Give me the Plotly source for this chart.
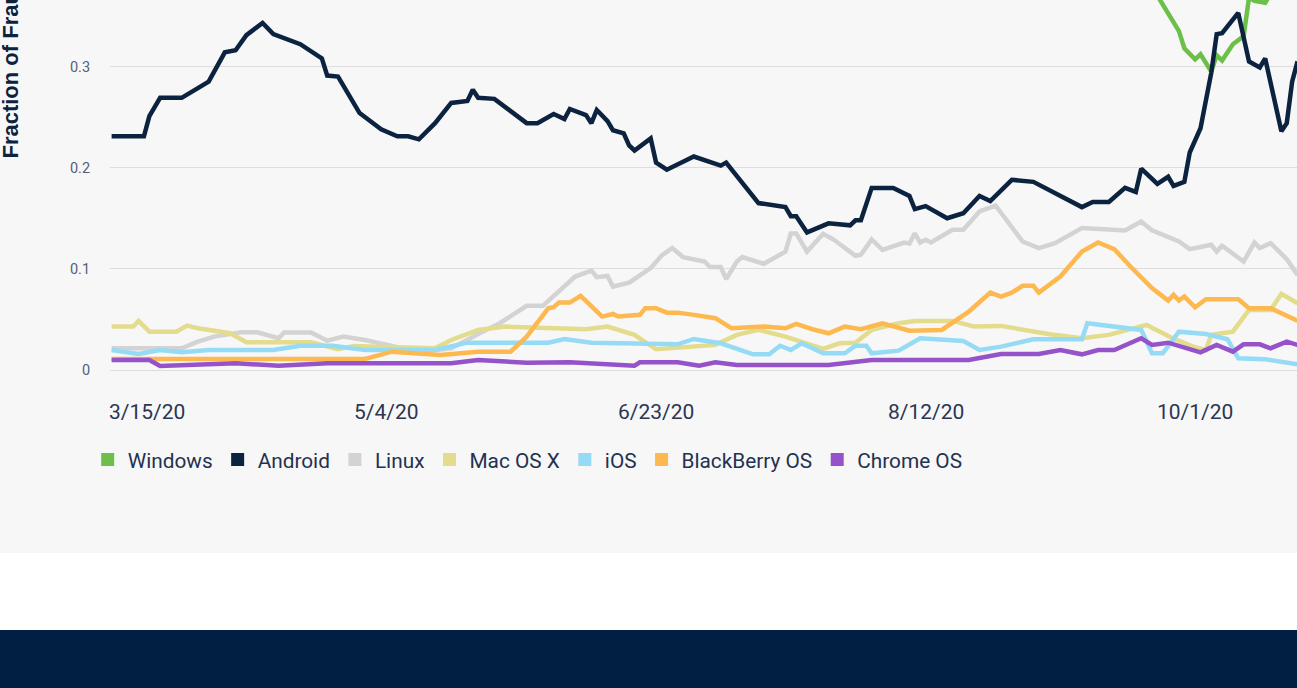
import plotly.graph_objects as go

# ---------------- data ----------------
series_names = ["Windows", "Android", "Linux", "Mac OS X", "iOS", "BlackBerry OS", "Chrome OS"]
series_colors = ["#6cc04a", "#0c2340", "#d3d3d3", "#e2dc8c", "#96dbf5", "#fdb94f", "#9552c9"]

# Windows is mostly above the visible window; the first two values are estimates off-chart
windows_dates = ["2020-03-14", "2020-09-20", "2020-09-24", "2020-09-28", "2020-09-29", "2020-10-01",
                 "2020-10-02", "2020-10-04", "2020-10-05", "2020-10-06", "2020-10-08", "2020-10-10",
                 "2020-10-11", "2020-10-12", "2020-10-13", "2020-10-14", "2020-10-15", "2020-10-20"]
windows_vals = [0.42, 0.40, 0.37, 0.335, 0.318, 0.307,
                0.312, 0.295, 0.311, 0.306, 0.322, 0.330,
                0.368, 0.365, 0.364, 0.363, 0.372, 0.380]

android_dates = ["2020-03-14", "2020-03-20", "2020-03-21", "2020-03-23", "2020-03-27", "2020-04-01",
                 "2020-04-04", "2020-04-06", "2020-04-08", "2020-04-11", "2020-04-13", "2020-04-18",
                 "2020-04-22", "2020-04-23", "2020-04-25", "2020-04-27", "2020-04-29", "2020-05-03",
                 "2020-05-06", "2020-05-08", "2020-05-10", "2020-05-13", "2020-05-16", "2020-05-19",
                 "2020-05-20", "2020-05-21", "2020-05-24", "2020-05-30", "2020-06-01", "2020-06-04",
                 "2020-06-06", "2020-06-07", "2020-06-10", "2020-06-11", "2020-06-12", "2020-06-14",
                 "2020-06-15", "2020-06-17", "2020-06-18", "2020-06-19", "2020-06-22", "2020-06-23",
                 "2020-06-25", "2020-06-30", "2020-07-05", "2020-07-06", "2020-07-12", "2020-07-17",
                 "2020-07-18", "2020-07-19", "2020-07-21", "2020-07-25", "2020-07-29", "2020-07-30",
                 "2020-07-31", "2020-08-02", "2020-08-06", "2020-08-09", "2020-08-10", "2020-08-12",
                 "2020-08-16", "2020-08-19", "2020-08-22", "2020-08-24", "2020-08-27", "2020-08-28",
                 "2020-09-01", "2020-09-10", "2020-09-12", "2020-09-15", "2020-09-18", "2020-09-20",
                 "2020-09-21", "2020-09-24", "2020-09-26", "2020-09-27", "2020-09-29", "2020-09-30",
                 "2020-10-02", "2020-10-04", "2020-10-05", "2020-10-06", "2020-10-09", "2020-10-11",
                 "2020-10-13", "2020-10-14", "2020-10-17", "2020-10-18", "2020-10-19", "2020-10-20"]
android_vals = [0.231, 0.231, 0.251, 0.269, 0.269, 0.285,
                0.314, 0.316, 0.331, 0.343, 0.332, 0.322,
                0.308, 0.291, 0.290, 0.271, 0.254, 0.238,
                0.231, 0.231, 0.228, 0.244, 0.264, 0.266,
                0.277, 0.269, 0.268, 0.244, 0.244, 0.253,
                0.248, 0.258, 0.252, 0.244, 0.257, 0.246,
                0.237, 0.234, 0.222, 0.217, 0.229, 0.205,
                0.198, 0.211, 0.202, 0.205, 0.165, 0.161,
                0.152, 0.152, 0.136, 0.145, 0.143, 0.148,
                0.148, 0.180, 0.180, 0.172, 0.159, 0.162,
                0.150, 0.155, 0.172, 0.167, 0.183, 0.188,
                0.186, 0.161, 0.166, 0.166, 0.180, 0.176,
                0.199, 0.184, 0.191, 0.182, 0.186, 0.215,
                0.239, 0.294, 0.332, 0.333, 0.353, 0.305,
                0.299, 0.308, 0.236, 0.244, 0.285, 0.305]

linux_dates = ["2020-03-14", "2020-03-27", "2020-03-30", "2020-04-02", "2020-04-07", "2020-04-10",
               "2020-04-14", "2020-04-15", "2020-04-20", "2020-04-23", "2020-04-26", "2020-04-30",
               "2020-05-05", "2020-05-08", "2020-05-12", "2020-05-16", "2020-05-21", "2020-05-25",
               "2020-05-30", "2020-06-02", "2020-06-08", "2020-06-11", "2020-06-12", "2020-06-14",
               "2020-06-15", "2020-06-18", "2020-06-22", "2020-06-24", "2020-06-26", "2020-06-28",
               "2020-07-02", "2020-07-03", "2020-07-05", "2020-07-06", "2020-07-08", "2020-07-09",
               "2020-07-13", "2020-07-17", "2020-07-18", "2020-07-19", "2020-07-21", "2020-07-24",
               "2020-07-26", "2020-07-30", "2020-07-31", "2020-08-02", "2020-08-04", "2020-08-08",
               "2020-08-09", "2020-08-10", "2020-08-11", "2020-08-12", "2020-08-13", "2020-08-17",
               "2020-08-19", "2020-08-22", "2020-08-25", "2020-08-30", "2020-09-02", "2020-09-05",
               "2020-09-10", "2020-09-18", "2020-09-21", "2020-09-23", "2020-09-28", "2020-09-30",
               "2020-10-04", "2020-10-05", "2020-10-06", "2020-10-08", "2020-10-10", "2020-10-12",
               "2020-10-13", "2020-10-15", "2020-10-18", "2020-10-20"]
linux_vals = [0.0215, 0.0215, 0.028, 0.033, 0.0373, 0.0373,
              0.0314, 0.037, 0.037, 0.029, 0.033, 0.0297,
              0.0238, 0.0198, 0.0191, 0.0215, 0.0356, 0.0462,
              0.0634, 0.0634, 0.0924, 0.0983, 0.0918, 0.093,
              0.0825, 0.0864, 0.1007, 0.1129, 0.1205, 0.1116,
              0.1072, 0.1017, 0.1017, 0.090, 0.1072, 0.1116,
              0.105, 0.117, 0.135, 0.135, 0.117, 0.1347,
              0.1287, 0.1129, 0.1139, 0.129, 0.1188, 0.126,
              0.125, 0.135, 0.126, 0.1287, 0.126, 0.1386,
              0.1386, 0.1567, 0.1624, 0.127, 0.1205, 0.1254,
              0.1403, 0.138, 0.1468, 0.138, 0.127, 0.1195,
              0.1238, 0.117, 0.1228, 0.1155, 0.1072, 0.126,
              0.1205, 0.1254, 0.1096, 0.094]

mac_dates = ["2020-03-14", "2020-03-18", "2020-03-19", "2020-03-21", "2020-03-26", "2020-03-28",
             "2020-03-30", "2020-04-05", "2020-04-08", "2020-04-20", "2020-04-25", "2020-04-28",
             "2020-05-02", "2020-05-13", "2020-05-16", "2020-05-21", "2020-05-26", "2020-06-03",
             "2020-06-10", "2020-06-14", "2020-06-19", "2020-06-23", "2020-07-02", "2020-07-04",
             "2020-07-08", "2020-07-12", "2020-07-17", "2020-07-24", "2020-07-27", "2020-07-30",
             "2020-08-02", "2020-08-07", "2020-08-10", "2020-08-17", "2020-08-21", "2020-08-26",
             "2020-09-04", "2020-09-10", "2020-09-15", "2020-09-22", "2020-09-27", "2020-10-01",
             "2020-10-03", "2020-10-04", "2020-10-08", "2020-10-11", "2020-10-15", "2020-10-17",
             "2020-10-20"]
mac_vals = [0.0429, 0.0429, 0.0485, 0.0379, 0.0379, 0.0439,
            0.0413, 0.0363, 0.0274, 0.0274, 0.0205, 0.0238,
            0.0231, 0.0215, 0.0297, 0.0396, 0.0429, 0.0413,
            0.0403, 0.0429, 0.0347, 0.0205, 0.0238, 0.0248,
            0.0347, 0.0396, 0.033, 0.0208, 0.0264, 0.027,
            0.0396, 0.0462, 0.0485, 0.0485, 0.0429, 0.0436,
            0.0353, 0.0314, 0.0347, 0.0446, 0.031, 0.0225,
            0.0198, 0.0347, 0.0379, 0.0594, 0.0594, 0.0752,
            0.066]

ios_dates = ["2020-03-14", "2020-03-19", "2020-03-23", "2020-03-27", "2020-04-01", "2020-04-13",
             "2020-04-18", "2020-04-24", "2020-04-30", "2020-05-13", "2020-05-19", "2020-06-03",
             "2020-06-06", "2020-06-11", "2020-06-27", "2020-06-30", "2020-07-05", "2020-07-08",
             "2020-07-11", "2020-07-14", "2020-07-16", "2020-07-18", "2020-07-20", "2020-07-24",
             "2020-07-28", "2020-07-30", "2020-08-01", "2020-08-02", "2020-08-07", "2020-08-11",
             "2020-08-19", "2020-08-22", "2020-08-26", "2020-09-01", "2020-09-10", "2020-09-11",
             "2020-09-21", "2020-09-23", "2020-09-25", "2020-09-28", "2020-10-03", "2020-10-07",
             "2020-10-09", "2020-10-14", "2020-10-20"]
ios_vals = [0.0198, 0.0158, 0.0198, 0.0175, 0.0198, 0.0198,
            0.024, 0.024, 0.0198, 0.0198, 0.027, 0.027,
            0.0307, 0.027, 0.0254, 0.0307, 0.0264, 0.0208,
            0.0155, 0.0155, 0.024, 0.0198, 0.0264, 0.0165,
            0.0165, 0.024, 0.024, 0.0165, 0.0191, 0.0314,
            0.0287, 0.0198, 0.0231, 0.0304, 0.0304, 0.0462,
            0.0396, 0.0165, 0.0165, 0.0379, 0.0356, 0.0304,
            0.0116, 0.0106, 0.0056]

blackberry_dates = ["2020-03-14", "2020-04-30", "2020-05-05", "2020-05-14", "2020-05-21", "2020-05-27",
                    "2020-05-30", "2020-06-03", "2020-06-04", "2020-06-05", "2020-06-07", "2020-06-09",
                    "2020-06-13", "2020-06-15", "2020-06-16", "2020-06-20", "2020-06-21", "2020-06-23",
                    "2020-06-25", "2020-06-27", "2020-06-30", "2020-07-04", "2020-07-07", "2020-07-13",
                    "2020-07-17", "2020-07-19", "2020-07-22", "2020-07-25", "2020-07-28", "2020-07-31",
                    "2020-08-04", "2020-08-06", "2020-08-09", "2020-08-15", "2020-08-20", "2020-08-24",
                    "2020-08-26", "2020-08-28", "2020-08-30", "2020-09-01", "2020-09-02", "2020-09-06",
                    "2020-09-10", "2020-09-13", "2020-09-16", "2020-09-19", "2020-09-23", "2020-09-26",
                    "2020-09-27", "2020-09-28", "2020-09-29", "2020-10-01", "2020-10-03", "2020-10-09",
                    "2020-10-11", "2020-10-15", "2020-10-20"]
blackberry_vals = [0.0109, 0.0109, 0.0181, 0.0149, 0.0181, 0.0181,
                   0.033, 0.061, 0.062, 0.0666, 0.0666, 0.0733,
                   0.0528, 0.0554, 0.0528, 0.0545, 0.0611, 0.0611,
                   0.0567, 0.0567, 0.0545, 0.0512, 0.0413, 0.0429,
                   0.0413, 0.0455, 0.0403, 0.0363, 0.0429, 0.0403,
                   0.0462, 0.0429, 0.0389, 0.0396, 0.0577, 0.0765,
                   0.0726, 0.0765, 0.0832, 0.0832, 0.0765, 0.0924,
                   0.117, 0.126, 0.1195, 0.1023, 0.0809, 0.0686,
                   0.0743, 0.0686, 0.0726, 0.062, 0.070, 0.070,
                   0.0611, 0.0611, 0.0488]

chrome_dates = ["2020-03-14", "2020-03-21", "2020-03-23", "2020-03-30", "2020-04-06", "2020-04-14",
                "2020-04-23", "2020-05-16", "2020-05-21", "2020-05-30", "2020-06-07", "2020-06-19",
                "2020-06-20", "2020-06-27", "2020-07-01", "2020-07-04", "2020-07-08", "2020-07-25",
                "2020-07-30", "2020-08-02", "2020-08-20", "2020-08-26", "2020-09-02", "2020-09-06",
                "2020-09-10", "2020-09-13", "2020-09-16", "2020-09-18", "2020-09-21", "2020-09-23",
                "2020-09-26", "2020-10-02", "2020-10-05", "2020-10-08", "2020-10-10", "2020-10-13",
                "2020-10-15", "2020-10-18", "2020-10-20"]
chrome_vals = [0.0099, 0.0099, 0.004, 0.0056, 0.0066, 0.0043,
               0.0066, 0.0066, 0.0099, 0.0072, 0.0076, 0.0043,
               0.0076, 0.0076, 0.0043, 0.0076, 0.005, 0.005,
               0.0076, 0.0099, 0.0099, 0.0158, 0.0158, 0.0198,
               0.0155, 0.0198, 0.0198, 0.0248, 0.0314, 0.0248,
               0.027, 0.0175, 0.0248, 0.0181, 0.0254, 0.0254,
               0.0215, 0.028, 0.0248]

x_tick_dates = ["2020-03-15", "2020-05-04", "2020-06-23", "2020-08-12", "2020-10-01"]
x_tick_labels = ["3/15/20", "5/4/20", "6/23/20", "8/12/20", "10/1/20"]
y_tick_vals = [0, 0.1, 0.2, 0.3]
y_tick_labels = ["0", "0.1", "0.2", "0.3"]
y_title = "Fraction of Fraudulent Transactions"

all_dates = [windows_dates, android_dates, linux_dates, mac_dates, ios_dates, blackberry_dates, chrome_dates]
all_vals = [windows_vals, android_vals, linux_vals, mac_vals, ios_vals, blackberry_vals, chrome_vals]

# ---------------- figure ----------------
FONT = "Roboto"
fig = go.Figure()

for name, color, xs, ys in zip(series_names, series_colors, all_dates, all_vals):
    fig.add_trace(go.Scatter(
        x=xs, y=ys, mode="lines", name=name, legendgroup=name, showlegend=False,
        line=dict(color=color, width=4.5), hoverinfo="skip",
    ))

# square legend entries
for name, color in zip(series_names, series_colors):
    fig.add_trace(go.Scatter(
        x=[None], y=[None], mode="markers", name=name, legendgroup=name, showlegend=True,
        marker=dict(symbol="square", size=13, color=color, line=dict(width=0)),
    ))

annotations = []
for i, (d, lab) in enumerate(zip(x_tick_dates, x_tick_labels)):
    if i == 0:
        annotations.append(dict(x=0, xref="paper", xanchor="left", xshift=-3,
                                y=-0.0701, yref="paper", yanchor="middle",
                                text=lab, showarrow=False,
                                font=dict(family=FONT, size=21, color="#2a3652")))
    else:
        annotations.append(dict(x=d, xref="x", xanchor="center",
                                y=-0.0701, yref="paper", yanchor="middle",
                                text=lab, showarrow=False,
                                font=dict(family=FONT, size=21, color="#2a3652")))

annotations.append(dict(x=-0.0842, xref="paper", xanchor="center",
                        y=0.5818, yref="paper", yanchor="bottom",
                        text="<b>" + y_title + "</b>", textangle=-90, showarrow=False,
                        font=dict(family="Liberation Sans, Arial", size=22, color="#0c2340")))

shapes = [
    dict(type="rect", xref="paper", yref="paper", x0=-0.2, x1=1.2, y0=-0.43636, y1=-0.63636,
         fillcolor="#ffffff", line=dict(width=0), layer="below"),
    dict(type="rect", xref="paper", yref="paper", x0=-0.2, x1=1.2, y0=-0.63636, y1=-0.95,
         fillcolor="#001f42", line=dict(width=0), layer="below"),
]

fig.update_layout(
    width=1297, height=688,
    margin=dict(l=110, r=0, t=0, b=303, pad=0),
    paper_bgcolor="#f7f7f7", plot_bgcolor="#f7f7f7",
    font=dict(family=FONT),
    xaxis=dict(type="date", range=["2020-03-13 16:48", "2020-10-19 21:36"],
               showgrid=False, zeroline=False, showticklabels=False, ticks="",
               showline=False, fixedrange=True),
    yaxis=dict(range=[-0.01483, 0.36573], tickvals=y_tick_vals, ticktext=y_tick_labels,
               showgrid=True, gridcolor="#dddddd", gridwidth=1, zeroline=False,
               ticks="outside", ticklen=16, tickcolor="rgba(0,0,0,0)",
               tickfont=dict(family=FONT, size=14.5, color="#536079"),
               showline=False, fixedrange=True),
    showlegend=True,
    legend=dict(orientation="h", x=-0.0188, xanchor="left", y=-0.1948, yanchor="middle",
                font=dict(family=FONT, size=20.8, color="#24314f"),
                bgcolor="rgba(0,0,0,0)", borderwidth=0, itemclick=False, itemdoubleclick=False),
    annotations=annotations,
    shapes=shapes,
    hovermode=False,
)

fig.write_html("out.html", config={"displayModeBar": False},
               post_script="document.body.style.margin='0';document.body.style.overflow='hidden';")
